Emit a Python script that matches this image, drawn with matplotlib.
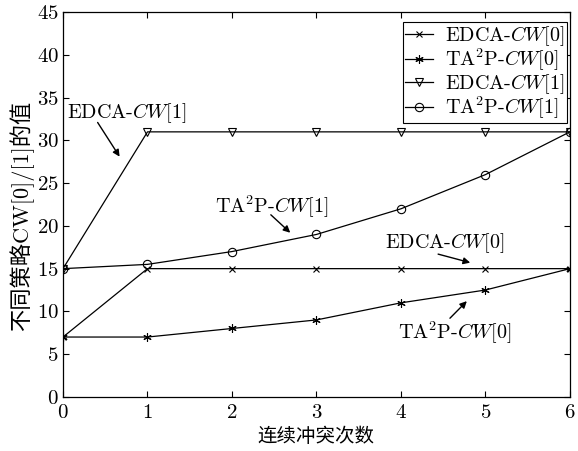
import matplotlib
matplotlib.use("Agg")
import matplotlib.pyplot as plt

plt.rcParams['font.family'] = ['cmr10', 'Noto Sans CJK SC', 'DejaVu Sans']
plt.rcParams['mathtext.fontset'] = 'cm'
plt.rcParams['axes.unicode_minus'] = False
plt.rcParams['axes.formatter.use_mathtext'] = True

# 连续冲突次数
x = [0, 1, 2, 3, 4, 5, 6]
edca_cw0 = [7, 15, 15, 15, 15, 15, 15]
ta2p_cw0 = [7, 7, 8, 9, 11, 12.5, 15]
edca_cw1 = [15, 31, 31, 31, 31, 31, 31]
ta2p_cw1 = [15, 15.5, 17, 19, 22, 26, 31]

lab_edca0 = r'EDCA-$\mathit{CW}$[0]'
lab_ta2p0 = r'TA$^2$P-$\mathit{CW}$[0]'
lab_edca1 = r'EDCA-$\mathit{CW}$[1]'
lab_ta2p1 = r'TA$^2$P-$\mathit{CW}$[1]'

fig = plt.figure(figsize=(5.78, 4.51), dpi=100)
ax = fig.add_axes([0.109, 0.120, 0.877, 0.853])

lw = 0.9
ax.plot(x, edca_cw0, color='k', lw=lw, marker='x', ms=4, mew=0.8, label=lab_edca0)
ax.plot(x, ta2p_cw0, color='k', lw=lw, marker=(6, 2, 0), ms=6, mew=0.8, label=lab_ta2p0)
ax.plot(x, edca_cw1, color='k', lw=lw, marker='v', ms=6, mew=0.8, mfc='none', label=lab_edca1)
ax.plot(x, ta2p_cw1, color='k', lw=lw, marker='o', ms=6, mew=0.8, mfc='none', label=lab_ta2p1)

ax.set_xlim(0, 6)
ax.set_ylim(0, 45)
ax.set_xticks(range(0, 7))
ax.set_yticks(range(0, 46, 5))
ax.tick_params(direction='in', top=True, right=True, labelsize=15, length=4, width=0.8)
ax.tick_params(axis='x', pad=5)
ax.tick_params(axis='y', pad=3)
for s in ax.spines.values():
    s.set_linewidth(0.9)

ax.set_xlabel('连续冲突次数', fontsize=14, labelpad=4)
ax.set_ylabel('不同策略CW[0]/[1]的值', fontsize=16)
ax.yaxis.set_label_coords(-0.058, 0.47)

# 曲线标注：文字与箭头分开放置
fs = 14.5
ax.text(0.05, 33.2, lab_edca1, fontsize=fs, ha='left', va='center')
ax.text(1.80, 22.2, lab_ta2p1, fontsize=fs, ha='left', va='center')
ax.text(3.81, 18.0, lab_edca0, fontsize=fs, ha='left', va='center')
ax.text(3.96, 7.5, lab_ta2p0, fontsize=fs, ha='left', va='center')

arr = dict(arrowstyle='-|>', color='k', lw=1.0, mutation_scale=10, shrinkA=0, shrinkB=0)
ax.annotate('', xy=(0.67, 28.1), xytext=(0.41, 32.1), arrowprops=arr)
ax.annotate('', xy=(2.69, 19.2), xytext=(2.46, 21.3), arrowprops=arr)
ax.annotate('', xy=(4.82, 15.7), xytext=(4.44, 16.7), arrowprops=arr)
ax.annotate('', xy=(4.78, 11.2), xytext=(4.58, 9.2), arrowprops=arr)

leg = ax.legend(loc='upper right', bbox_to_anchor=(0.994, 0.974), fontsize=14.5,
                fancybox=False, edgecolor='k', framealpha=1, handlelength=1.4,
                handletextpad=0.6, borderpad=0.1, labelspacing=-0.05, borderaxespad=0)
leg.get_frame().set_linewidth(0.8)

fig.savefig('out.png', dpi=100)
